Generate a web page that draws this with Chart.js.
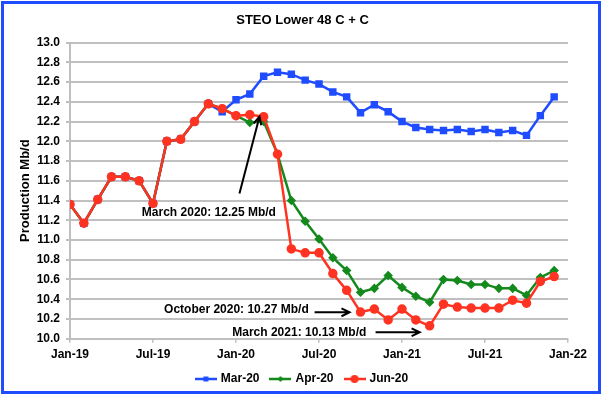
<!DOCTYPE html>
<html>
<head>
<meta charset="utf-8">
<script src="https://cdn.jsdelivr.net/npm/chart.js@4/dist/chart.umd.min.js"></script>
<style>
    html, body { margin: 0; padding: 0; background: #fff; }
    #wrap { position: relative; width: 605px; height: 398px; }
    #frame { position: absolute; left: 1px; top: 1px; width: 594px; height: 387px; border: 3px solid #1f4cff; pointer-events: none; }
</style>
</head>
<body>
<div id="wrap">
    <canvas id="steoChart" width="605" height="398"></canvas>
    <div id="frame"></div>
</div>
<script>
// ===== STEO Lower 48 C + C =====
// month index 0 = Jan-19 ... 35 = Dec-21
const xTickLabels = ['Jan-19', 'Jul-19', 'Jan-20', 'Jul-20', 'Jan-21', 'Jul-21', 'Jan-22'];
const seriesNames = ['Mar-20', 'Apr-20', 'Jun-20'];

const mar20 = [11.36, 11.17, 11.41, 11.64, 11.64, 11.60, 11.37, 12.00, 12.02, 12.20, 12.38, 12.30,
               12.42, 12.48, 12.66, 12.70, 12.68, 12.62, 12.58, 12.50, 12.45, 12.29, 12.37, 12.30,
               12.20, 12.14, 12.12, 12.11, 12.12, 12.10, 12.12, 12.09, 12.11, 12.06, 12.26, 12.45];
const apr20 = [11.36, 11.17, 11.41, 11.64, 11.64, 11.60, 11.37, 12.00, 12.02, 12.20, 12.38, 12.33,
               12.26, 12.19, 12.20, 11.87, 11.40, 11.19, 11.01, 10.82, 10.69, 10.47, 10.51, 10.64,
               10.52, 10.43, 10.37, 10.60, 10.59, 10.55, 10.55, 10.51, 10.51, 10.44, 10.62, 10.69];
const jun20 = [11.36, 11.17, 11.41, 11.64, 11.64, 11.60, 11.37, 12.00, 12.02, 12.20, 12.38, 12.33,
               12.26, 12.27, 12.25, 11.87, 10.91, 10.87, 10.87, 10.66, 10.49, 10.27, 10.30, 10.19,
               10.30, 10.19, 10.13, 10.35, 10.32, 10.31, 10.31, 10.31, 10.39, 10.36, 10.58, 10.63];

// callouts: text anchor and arrow tail/tip, in (month, Mb/d)
const callouts = [
    { text: 'March 2020: 12.25 Mb/d', align: 'center', at: [10.04, 11.276], from: [12.25, 11.47], to: [13.70, 12.252] },
    { text: 'October 2020: 10.27 Mb/d', align: 'right', at: [17.26, 10.29], from: [17.68, 10.267], to: [20.21, 10.267] },
    { text: 'March 2021: 10.13 Mb/d', align: 'right', at: [21.42, 10.061], from: [22.09, 10.065], to: [25.28, 10.065] }
];

const FONT = 'Arial, "Liberation Sans", sans-serif';
const BLUE = '#1f4cff', GREEN = '#14891c', RED = '#ff3322';

const toXY = arr => arr.map((v, i) => ({ x: i, y: v }));

function legendIcon(color, style, r) {
    const c = document.createElement('canvas');
    c.width = 22; c.height = 10;
    const g = c.getContext('2d');
    g.strokeStyle = color; g.fillStyle = color; g.lineWidth = 2.5;
    g.beginPath(); g.moveTo(0, 5); g.lineTo(22, 5); g.stroke();
    g.beginPath();
    if (style === 'circle') g.arc(11, 5, r, 0, Math.PI * 2);
    else if (style === 'rect') g.rect(11 - r, 5 - r, r * 2, r * 2);
    else { g.moveTo(11, 5 - r); g.lineTo(11 + r, 5); g.lineTo(11, 5 + r); g.lineTo(11 - r, 5); g.closePath(); }
    g.fill();
    return c;
}
const icons = [legendIcon(BLUE, 'rect', 2.5), legendIcon(GREEN, 'diamond', 3), legendIcon(RED, 'circle', 4)];

const calloutPlugin = {
    id: 'callouts',
    afterDatasetsDraw(chart) {
        const { ctx, scales: { x, y } } = chart;
        ctx.save();
        ctx.font = 'bold 12px ' + FONT;
        ctx.fillStyle = '#000';
        ctx.strokeStyle = '#000';
        ctx.lineWidth = 2;
        ctx.textBaseline = 'middle';
        callouts.forEach(c => {
            ctx.textAlign = c.align;
            ctx.fillText(c.text, x.getPixelForValue(c.at[0]), y.getPixelForValue(c.at[1]));
            const x1 = x.getPixelForValue(c.from[0]), y1 = y.getPixelForValue(c.from[1]);
            const x2 = x.getPixelForValue(c.to[0]), y2 = y.getPixelForValue(c.to[1]);
            const a = Math.atan2(y2 - y1, x2 - x1);
            ctx.beginPath();
            ctx.moveTo(x1, y1); ctx.lineTo(x2, y2);
            ctx.moveTo(x2 - 9 * Math.cos(a - 0.45), y2 - 9 * Math.sin(a - 0.45));
            ctx.lineTo(x2, y2);
            ctx.lineTo(x2 - 9 * Math.cos(a + 0.45), y2 - 9 * Math.sin(a + 0.45));
            ctx.stroke();
        });
        ctx.restore();
    }
};

Chart.defaults.font.family = FONT;
Chart.defaults.color = '#000';

new Chart(document.getElementById('steoChart'), {
    type: 'line',
    data: {
        datasets: [
            { label: seriesNames[0], data: toXY(mar20), borderColor: BLUE, backgroundColor: BLUE, borderWidth: 2.5,
              pointStyle: 'rect', pointRadius: 3.5, order: 2 },
            { label: seriesNames[1], data: toXY(apr20), borderColor: GREEN, backgroundColor: GREEN, borderWidth: 2.5,
              pointStyle: 'rectRot', pointRadius: 3, order: 1 },
            { label: seriesNames[2], data: toXY(jun20), borderColor: RED, backgroundColor: RED, borderWidth: 2.5,
              pointStyle: 'circle', pointRadius: 3.5, order: 0 }
        ]
    },
    options: {
        responsive: false, animation: false,
        layout: { padding: { left: 8, right: 8, top: 5, bottom: 3 } },
        plugins: {
            title: { display: true, text: 'STEO Lower 48 C + C', font: { size: 13, weight: 'bold' }, padding: { top: 8, bottom: 14 } },
            legend: {
                position: 'bottom',
                labels: {
                    usePointStyle: true, pointStyleWidth: 18, padding: 12,
                    font: { size: 12, weight: 'bold' },
                    generateLabels: (chart) => chart.data.datasets.map((ds, i) => ({
                        text: ds.label, datasetIndex: i, pointStyle: icons[i],
                        fillStyle: ds.borderColor, strokeStyle: ds.borderColor, lineWidth: 0, hidden: false
                    }))
                }
            },
            tooltip: { enabled: false }
        },
        scales: {
            x: {
                type: 'linear', min: 0, max: 36,
                afterFit: (s) => { s.height = 22.3; },
                grid: { drawOnChartArea: false, tickLength: 4, color: '#bfbfbf', lineWidth: 1.5 },
                border: { color: '#bfbfbf', width: 2 },
                ticks: { stepSize: 6, padding: 5, maxRotation: 0, autoSkip: false,
                         font: { size: 12, weight: 'bold' },
                         callback: (v) => xTickLabels[v / 6] }
            },
            y: {
                min: 10, max: 13,
                afterFit: (s) => { s.width = 62; },
                grid: { color: '#c0c0c0', lineWidth: 2, tickLength: 4 },
                border: { color: '#bfbfbf', width: 2 },
                title: { display: true, text: 'Production Mb/d', font: { size: 13, weight: 'bold' }, padding: { top: 10, bottom: 0 } },
                ticks: { stepSize: 0.2, padding: 6, font: { size: 12, weight: 'bold' },
                         callback: (v) => v.toFixed(1) }
            },
            // empty right-hand spacer so title and legend centre on the whole frame
            yRight: {
                position: 'right', display: true,
                afterFit: (s) => { s.width = 29; },
                grid: { display: false }, border: { display: false }, ticks: { display: false }
            }
        }
    },
    plugins: [calloutPlugin]
});
</script>
</body>
</html>
